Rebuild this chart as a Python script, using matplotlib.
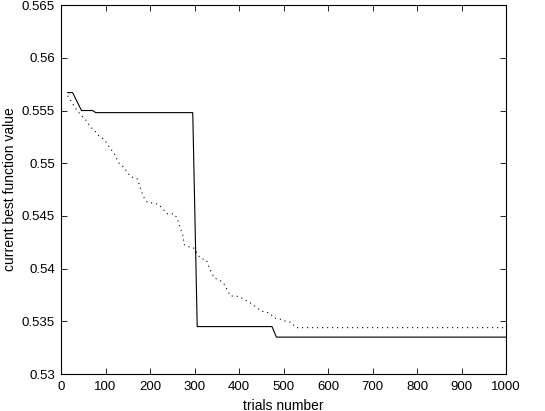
import matplotlib
matplotlib.use("Agg")
import matplotlib.pyplot as plt

# curva continua (mejor valor actual, metodo 1)
ensayos_a = [15, 26, 46, 71, 78, 296, 306, 474, 484, 1000]
valores_a = [0.5567, 0.5567, 0.5550, 0.5550, 0.5548, 0.5548,
             0.5345, 0.5345, 0.5335, 0.5335]

# curva punteada (metodo 2)
ensayos_b = [15, 25, 36, 46, 58, 65, 75, 85, 95, 103, 110, 119, 125, 132,
             142, 149, 158, 172, 177, 181, 187, 194, 209, 219, 230, 239,
             254, 261, 266, 271, 275, 276, 284, 297, 313, 327, 332, 337,
             345, 357, 367, 373, 381, 394, 407, 419, 431, 442, 455, 468,
             480, 493, 505, 517, 528, 1000]
valores_b = [0.5564, 0.5557, 0.5550, 0.5545, 0.5540, 0.5535, 0.5531,
             0.5526, 0.5523, 0.5519, 0.5514, 0.5510, 0.5504, 0.5499,
             0.5496, 0.5491, 0.5487, 0.5485, 0.5478, 0.5473, 0.5467,
             0.5463, 0.5462, 0.5461, 0.5456, 0.5452, 0.5452, 0.5448,
             0.5441, 0.5435, 0.5430, 0.5423, 0.5421, 0.5420, 0.5410,
             0.5408, 0.5402, 0.5397, 0.5391, 0.5389, 0.5385, 0.5380,
             0.5374, 0.5374, 0.5372, 0.5369, 0.5366, 0.5362, 0.5359,
             0.5358, 0.5353, 0.5352, 0.5350, 0.5349, 0.5344, 0.5344]

xticks = list(range(0, 1001, 100))
yticks = [0.53, 0.535, 0.54, 0.545, 0.55, 0.555, 0.56, 0.565]
ytick_labels = ["0.53", "0.535", "0.54", "0.545", "0.55", "0.555", "0.56", "0.565"]

plt.rcParams['font.family'] = ['Liberation Sans', 'DejaVu Sans']

fig = plt.figure(figsize=(5.45, 4.11), dpi=100)
ax = fig.add_axes([0.112, 0.090, 0.8165, 0.8975])

ax.plot(ensayos_a, valores_a, color='black', linewidth=0.8)
ax.plot(ensayos_b, valores_b, color='black', linewidth=0.8,
        linestyle=(0, (1, 3.5)))

ax.set_xlim(0, 1000)
ax.set_ylim(0.53, 0.565)
ax.set_xticks(xticks)
ax.set_yticks(yticks)
ax.set_yticklabels(ytick_labels)
ax.tick_params(direction='in', top=True, right=True, labelsize=9.5,
               length=4, width=0.6)
ax.tick_params(axis='x', pad=5)
ax.tick_params(axis='y', pad=4.5)
for s in ax.spines.values():
    s.set_linewidth(0.8)

ax.set_xlabel("trials number", fontsize=10, labelpad=4)
ax.set_ylabel("current best function value", fontsize=10, labelpad=3)

fig.savefig("out.png", dpi=100)
